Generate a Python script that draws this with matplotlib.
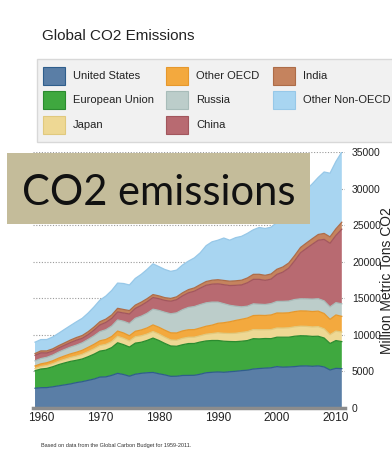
import matplotlib
matplotlib.use("Agg")
import numpy as np
import matplotlib.pyplot as plt
from matplotlib import font_manager
from matplotlib.patches import Rectangle


def pick_font(*names):
    # first family that is actually installed
    for n in names:
        try:
            font_manager.findfont(n, fallback_to_default=False)
            return n
        except ValueError:
            pass
    return "DejaVu Sans"


FONT = pick_font("Liberation Sans", "Arial")
BIG_FONT = pick_font("Lato", "Liberation Sans")
plt.rcParams["font.family"] = [FONT, "DejaVu Sans"]

# million metric tons CO2, 1959-2011
years = list(range(1959, 2012))

united_states = [2700, 2780, 2790, 2900, 3030, 3160, 3290, 3470, 3600, 3780,
                 3960, 4230, 4260, 4460, 4740, 4580, 4350, 4620, 4740, 4820,
                 4860, 4680, 4530, 4330, 4340, 4450, 4460, 4470, 4620, 4820,
                 4880, 4930, 4880, 4960, 5020, 5110, 5170, 5330, 5400, 5450,
                 5500, 5660, 5580, 5620, 5660, 5740, 5760, 5700, 5760, 5620,
                 5200, 5420, 5380]
european_union = [2400, 2550, 2620, 2740, 2900, 3000, 3080, 3050, 3100, 3230,
                  3400, 3550, 3650, 3800, 4180, 4080, 3980, 4250, 4250, 4420,
                  4700, 4550, 4300, 4150, 4100, 4200, 4350, 4350, 4400, 4350,
                  4350, 4300, 4250, 4130, 4050, 4020, 4050, 4150, 4050, 4050,
                  3980, 4020, 4100, 4060, 4150, 4140, 4100, 4090, 4050, 3950,
                  3620, 3800, 3700]
japan = [300, 340, 390, 410, 450, 490, 530, 570, 630, 690,
         730, 760, 790, 820, 880, 870, 830, 860, 880, 870,
         900, 880, 850, 820, 820, 870, 860, 860, 860, 920,
         950, 1050, 1080, 1100, 1150, 1200, 1220, 1240, 1240, 1200,
         1240, 1260, 1250, 1280, 1290, 1300, 1300, 1290, 1310, 1250,
         1200, 1300, 1300]
other_oecd = [350, 370, 390, 410, 440, 470, 500, 530, 560, 590,
              620, 650, 670, 700, 720, 730, 720, 760, 800, 840,
              900, 930, 960, 980, 1000, 1020, 1030, 1040, 1060, 1090,
              1150, 1300, 1450, 1600, 1750, 1800, 1860, 1920, 1980, 1950,
              2000, 2050, 2050, 2060, 2080, 2100, 2100, 2110, 2120, 2100,
              2100, 2200, 2150]
russia = [700, 720, 740, 770, 820, 870, 920, 970, 1020, 1080,
          1150, 1250, 1330, 1420, 1520, 1600, 1680, 1780, 1880, 2000,
          2150, 2300, 2450, 2600, 2750, 2900, 3050, 3150, 3200, 3200,
          3150, 2900, 2600, 2250, 1950, 1700, 1620, 1600, 1520, 1500,
          1550, 1580, 1600, 1600, 1650, 1650, 1660, 1700, 1700, 1730,
          1700, 1680, 1720]
china = [750, 790, 600, 560, 570, 590, 630, 680, 620, 660,
         790, 920, 1000, 1050, 1100, 1130, 1300, 1350, 1480, 1580,
         1600, 1600, 1620, 1720, 1800, 1900, 2000, 2100, 2250, 2400,
         2450, 2500, 2600, 2700, 2850, 3000, 3200, 3350, 3400, 3300,
         3350, 3700, 4000, 4500, 5300, 6300, 6900, 7500, 8000, 8400,
         8700, 9200, 10200]
india = [250, 260, 280, 300, 310, 320, 340, 360, 380, 400,
         420, 440, 450, 470, 490, 480, 460, 450, 440, 420,
         400, 390, 380, 380, 390, 410, 430, 450, 480, 510,
         540, 560, 580, 600, 620, 640, 660, 680, 690, 690,
         700, 700, 700, 700, 710, 720, 740, 760, 780, 820,
         880, 900, 950]
other_non_oecd = [1550, 1550, 1550, 1620, 1700, 1850, 1980, 2150, 2350, 2550,
                  2750, 2950, 3150, 3350, 3450, 3550, 3500, 3650, 3800, 4000,
                  4200, 4000, 3850, 3700, 3650, 3800, 3900, 4100, 4350, 4900,
                  5250, 5400, 5800, 5600, 5900, 6000, 6100, 6100, 6400, 6400,
                  6400, 6400, 6400, 6500, 6800, 7100, 7300, 7500, 7800, 8400,
                  8700, 9200, 9600]

names = ["United States", "European Union", "Japan", "Other OECD",
         "Russia", "China", "India", "Other Non-OECD"]
series = [united_states, european_union, japan, other_oecd,
          russia, china, india, other_non_oecd]
fills = ["#5a7ea6", "#3fa83f", "#eed894", "#f3a93e",
         "#bccdca", "#b86a71", "#c5835e", "#a8d5f1"]
edges = ["#2f5e8c", "#2b8b2f", "#e0c97e", "#e6982c",
         "#a8bcb9", "#a2565d", "#ad6c48", "#97c8e8"]

W, H = 392, 453
fig = plt.figure(figsize=(W / 100, H / 100), dpi=100)
fig.patch.set_facecolor("white")

def fx(px):
    return px / W

def fy(py):
    return 1 - py / H

ax = fig.add_axes([fx(32.6), fy(408), fx(312.4), 256 / H])

x = np.array(years)
base = np.zeros(len(years))
for vals, fc, ec in zip(series, fills, edges):
    top = base + np.array(vals)
    ax.fill_between(x, base, top, facecolor=fc, edgecolor="none", zorder=2)
    ax.plot(x, top, color=ec, lw=0.9, zorder=3)
    base = top

ax.set_xlim(1958.59, 2011.54)
ax.set_ylim(0, 35000)
ax.set_yticks(range(0, 35001, 5000))
ax.set_xticks(range(1960, 2011, 10))

ax.grid(axis="y", color="#9a9a9a", lw=0.8, linestyle=(0, (1, 1.5)), zorder=0)
ax.set_axisbelow(True)

for s in ["top", "left", "right"]:
    ax.spines[s].set_visible(False)
ax.spines["bottom"].set_color("#8c8c8c")
ax.spines["bottom"].set_linewidth(2.5)
ax.spines["bottom"].set_zorder(4)

ax.yaxis.tick_right()
ax.tick_params(axis="y", length=0, pad=5, labelsize=7.5, labelcolor="#222222")
ax.tick_params(axis="x", direction="in", length=5, width=1, color="#2a2a2a",
               pad=3, labelsize=8.5, labelcolor="#222222")

fig.text(fx(387), fy(281), "Million Metric Tons CO2", rotation=90,
         ha="center", va="center", fontsize=10, color="#222222")

# title and legend panel
fig.text(fx(42), fy(40), "Global CO2 Emissions", fontsize=11,
         color="#222222", va="baseline")

fig.patches.append(Rectangle((fx(37), fy(142)), fx(370), 83 / H,
                             transform=fig.transFigure, facecolor="#f1f1f1",
                             edgecolor="#d8d8d8", lw=1, zorder=1))
col_x = [43, 166, 273]
row_y = [67, 91, 116]
for i, (name, fc, ec) in enumerate(zip(names, fills, edges)):
    cx = col_x[i // 3]
    ry = row_y[i % 3]
    fig.patches.append(Rectangle((fx(cx), fy(ry + 18)), fx(22), 18 / H,
                                 transform=fig.transFigure, facecolor=fc,
                                 edgecolor=ec, lw=0.8, zorder=2))
    fig.text(fx(cx + 30), fy(ry + 9), name, fontsize=8, color="#222222",
             va="center", ha="left")

# caption box over the chart
fig.patches.append(Rectangle((fx(7), fy(224)), fx(303), 71 / H,
                             transform=fig.transFigure, facecolor="#c4bc9a",
                             edgecolor="none", zorder=5))
fig.text(fx(22), fy(205), "CO2 emissions", fontsize=30, color="#111111",
         family=[BIG_FONT, "DejaVu Sans"], va="baseline", ha="left", zorder=6)

fig.text(fx(41), fy(446), "Based on data from the Global Carbon Budget for 1959-2011.",
         fontsize=4, color="#333333", va="center")

fig.savefig("out.png", dpi=100)
